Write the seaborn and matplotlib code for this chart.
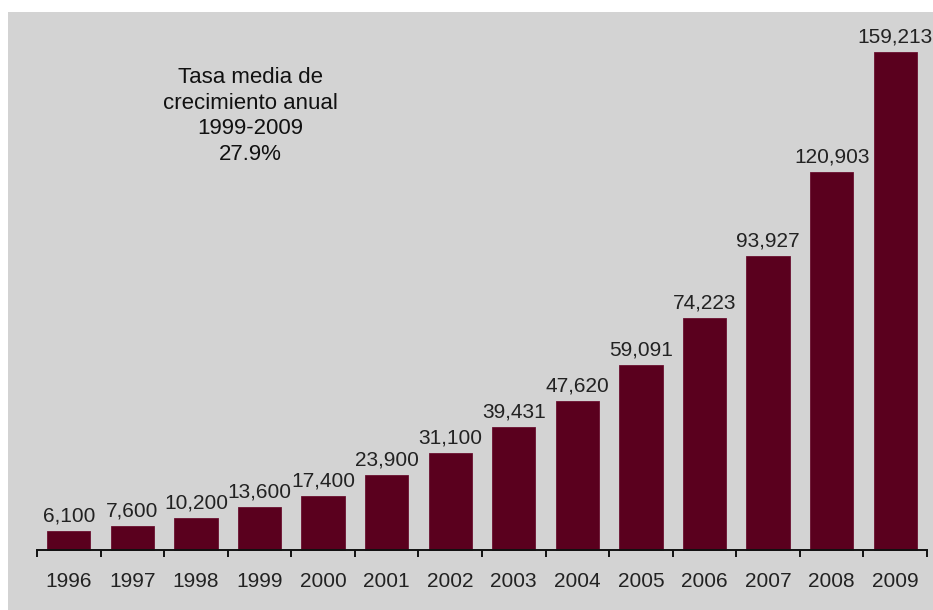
import matplotlib
matplotlib.use("Agg")
import matplotlib.pyplot as plt
import seaborn as sns
import pandas as pd

years = ["1996", "1997", "1998", "1999", "2000", "2001", "2002", "2003",
         "2004", "2005", "2006", "2007", "2008", "2009"]
values = [6100, 7600, 10200, 13600, 17400, 23900, 31100, 39431,
          47620, 59091, 74223, 93927, 120903, 159213]
note_lines = ["Tasa media de", "crecimiento anual", "1999-2009", "27.9%"]

sns.set_theme(style="white")
plt.rcParams["font.family"] = ["Liberation Sans", "DejaVu Sans"]

W, H = 933, 610
fig = plt.figure(figsize=(W / 100, H / 100), dpi=100, facecolor="white")
ax = fig.add_axes([8 / W, 0, (W - 8) / W, (H - 12) / H])
ax.set_facecolor("#d3d3d3")

df = pd.DataFrame({"year": years, "value": values})
bar_color = "#5a001e"
sns.barplot(data=df, x="year", y="value", color=bar_color, saturation=1,
            width=0.68, edgecolor="#6a1030", linewidth=0.6, ax=ax)

slot = (927 - 37) / 14
ax.set_xlim(-0.5 - (37 - 8) / slot, 13.5 + (933 - 927) / slot)
scale = (550 - 52) / 159213
ax.set_ylim(-(610 - 550) / scale, (550 - 12) / scale)

for s in ["top", "right", "left"]:
    ax.spines[s].set_visible(False)
ax.spines["bottom"].set_position(("data", 0))
ax.spines["bottom"].set_color("#111111")
ax.spines["bottom"].set_linewidth(1.4)
ax.spines["bottom"].set_bounds(-0.5, 13.5)

ax.set_yticks([])
ax.set_xticks(range(len(years)))
ax.set_xticklabels(years, fontsize=15, color="#222222")
ax.tick_params(axis="x", which="major", length=0, pad=16)
ax.set_xticks([i - 0.5 for i in range(len(years) + 1)], minor=True)
ax.tick_params(axis="x", which="minor", bottom=True, length=5, width=1.4,
               direction="out", color="#111111")
ax.set_xlabel("")
ax.set_ylabel("")

ax.bar_label(ax.containers[0], labels=[f"{v:,}" for v in values],
             padding=4, fontsize=15, color="#222222")

fig.text(250 / W, 1 - 116 / H, "\n".join(note_lines), ha="center", va="center",
         fontsize=16, color="#111111", linespacing=1.3)

fig.savefig("out.png", dpi=100, facecolor="white")
